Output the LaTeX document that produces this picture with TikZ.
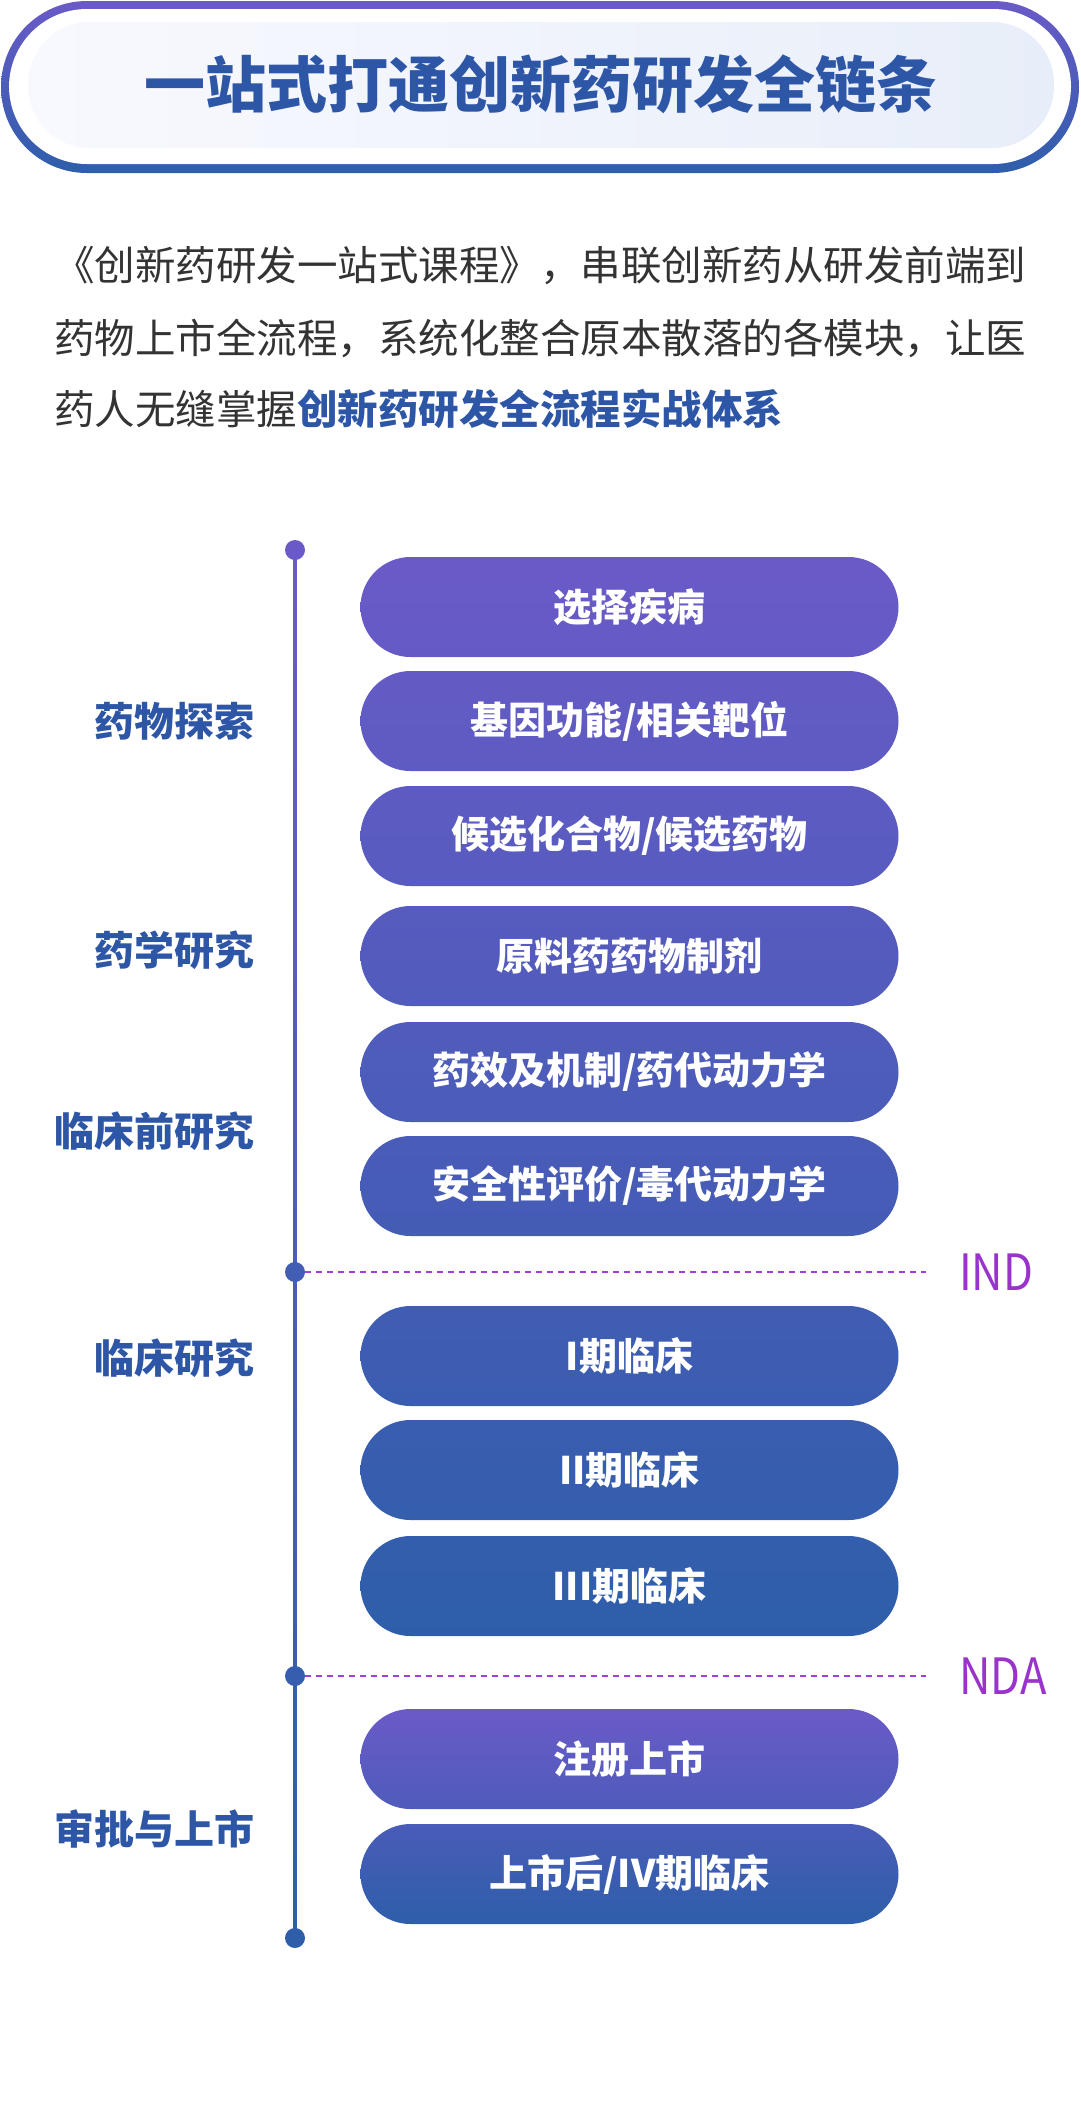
\documentclass[tikz,border=0pt]{standalone}
\usepackage{fontspec}
\setmainfont{Noto Sans CJK SC}
\usetikzlibrary{positioning,calc,backgrounds}
\definecolor{cpurple}{RGB}{106,90,200}
\definecolor{cblue}{RGB}{46,94,170}
\definecolor{ctitle}{RGB}{46,86,166}
\definecolor{ctext}{RGB}{51,51,51}
\definecolor{cmile}{RGB}{153,51,204}
\definecolor{cdash}{RGB}{160,62,222}
\newcommand{\fsz}[1]{\fontsize{#1pt}{#1pt}\selectfont}

\begin{document}
\begin{tikzpicture}[x=1pt,y=-1pt,
  pill/.style={rounded corners=50pt,minimum width=538pt,minimum height=100pt,inner sep=0pt,text=white,font=\fsz{38}\bfseries},
  stage/.style={anchor=east,inner sep=0pt,text=ctitle,font=\fsz{40}\bfseries},
  para/.style={anchor=west,inner sep=0pt,text=ctext,font=\fsz{40.5}},
  dot/.style={circle,inner sep=0pt,minimum size=20pt},
  mile/.style={draw=cdash,line width=2.5pt,dash pattern=on 6pt off 5pt},
  milelabel/.style={inner sep=0pt,text=cmile,font=\fsz{50}},
]
\useasboundingbox (0,0) rectangle (1080,2110);

%% title banner
\shade[top color=cpurple,bottom color=cblue,rounded corners=86pt] (1,1) rectangle (1079,173);
\fill[white,rounded corners=78pt] (9,9) rectangle (1071,164);
\shade[left color={rgb,255:red,248;green,249;blue,254},right color={rgb,255:red,232;green,238;blue,249},rounded corners=62pt] (28,22) rectangle (1054,148);
\node[font=\fsz{61}\bfseries,text=ctitle] (title) at (541,84) {一站式打通创新药研发全链条};

%% intro text
\node[para] (l1) at (54,266) {《创新药研发一站式课程》，串联创新药从研发前端到};
\node[para] (l2) at (54,338) {药物上市全流程，系统化整合原本散落的各模块，让医};
\node[para] (l3) at (54,409) {药人无缝掌握{\bfseries\color{ctitle}创新药研发全流程实战体系}};

%% timeline
\node[dot,fill=cpurple] (d0) at (295,550) {};
\node[dot,fill=cblue!66!cpurple] (d1) at (295,1272) {};
\node[dot,fill=cblue!85!cpurple] (d2) at (295,1676) {};
\node[dot,fill=cblue] (d3) at (295,1938) {};
\begin{scope}[on background layer]
\shade[top color=cpurple,bottom color=cblue] ($(d0.center)+(-1.5,0)$) rectangle ($(d3.center)+(1.5,0)$);
\end{scope}

\coordinate (indend) at (926,1272);
\coordinate (ndaend) at (926,1676);
\draw[mile] (d1) -- (indend);
\draw[mile] (d2) -- (ndaend);
\node[milelabel,right=33pt of indend] (ind) {\scalebox{0.87}[1]{IND}};
\node[milelabel,right=33pt of ndaend] (nda) {\scalebox{0.87}[1]{NDA}};

%% stages
\node[stage] (s1) at (255,721) {药物探索};
\node[stage] (s2) at (255,950) {药学研究};
\node[stage] (s3) at (255,1131) {临床前研究};
\node[stage] (s4) at (255,1358) {临床研究};
\node[stage] (s5) at (255,1829) {审批与上市};

%% steps
\foreach \n/\y/\t/\b/\txt in {1/607/0/9/{选择疾病},2/721/11/20/{基因功能/相关靶位},
  3/836/21/31/{候选化合物/候选药物},4/956/32/42/{原料药药物制剂},
  5/1072/43/52/{药效及机制/药代动力学},6/1186/54/63/{安全性评价/毒代动力学},
  7/1356/69/79/{I期临床},8/1470/80/89/{II期临床},9/1586/91/100/{III期临床},
  10/1759/0/46/{注册上市},11/1874/54/100/{上市后/IV期临床}}
  \node[pill,top color=cblue!\t!cpurple,bottom color=cblue!\b!cpurple] (p\n) at (629.5,\y) {\txt};
\end{tikzpicture}
\end{document}
